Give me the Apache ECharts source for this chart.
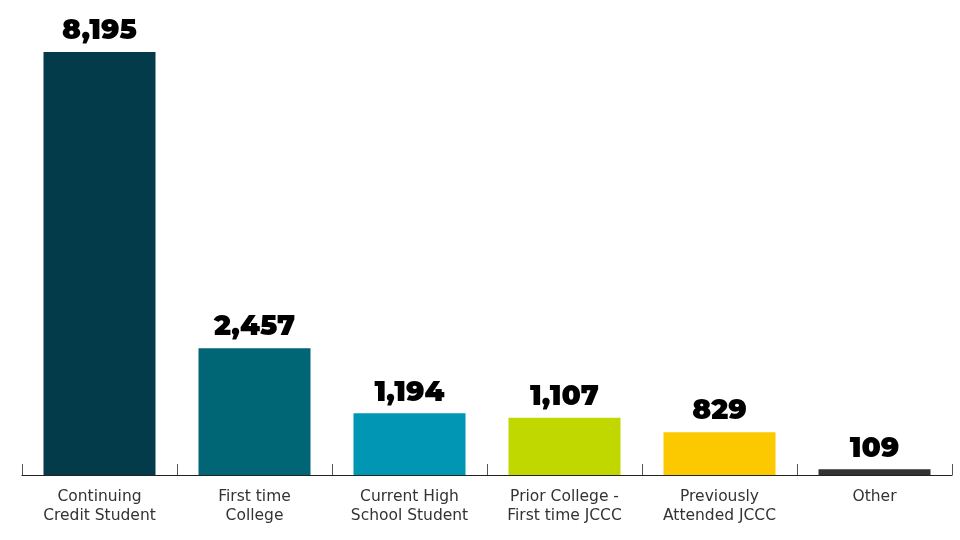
<!DOCTYPE html>
<html><head><meta charset="utf-8">
<script src="https://cdn.jsdelivr.net/npm/echarts@6/dist/echarts.min.js"></script>
<style>html,body{margin:0;padding:0;background:#fff}#c{width:960px;height:540px}</style>
</head><body><div id="c"></div>
<script>
const categories = ["Continuing\nCredit Student","First time\nCollege","Current High\nSchool Student","Prior College -\nFirst time JCCC","Previously\nAttended JCCC","Other"];
const values = [8195, 2457, 1194, 1107, 829, 109];
const colors = ["#043b4a","#006574","#0096b4","#c0d700","#fcc900","#333333"];

const chart = echarts.init(document.getElementById('c'));
chart.setOption({
  animation:false,
  grid:{left:22,right:8,top:10.45,bottom:65,containLabel:false},
  xAxis:{type:'category',data:categories,
    axisLine:{lineStyle:{color:'#222',width:1.2}},
    axisTick:{show:true,inside:true,length:11,lineStyle:{color:'#555'}},
    axisLabel:{color:'#333',fontSize:15.5,lineHeight:19.5,margin:12,fontFamily:'"DejaVu Sans", sans-serif'}},
  yAxis:{type:'value',min:0,max:9000,show:false,splitLine:{show:false}},
  series:[{type:'bar',barWidth:112,
    data:values.map((v,i)=>({value:v,itemStyle:{color:colors[i]}})),
    label:{show:true,position:'top',distance:7,color:'#000',fontSize:28,fontWeight:900,
      fontFamily:'Montserrat, Lato, "Noto Sans", sans-serif',
      formatter:p=>p.value.toLocaleString('en-US')}}]
});
</script></body></html>
